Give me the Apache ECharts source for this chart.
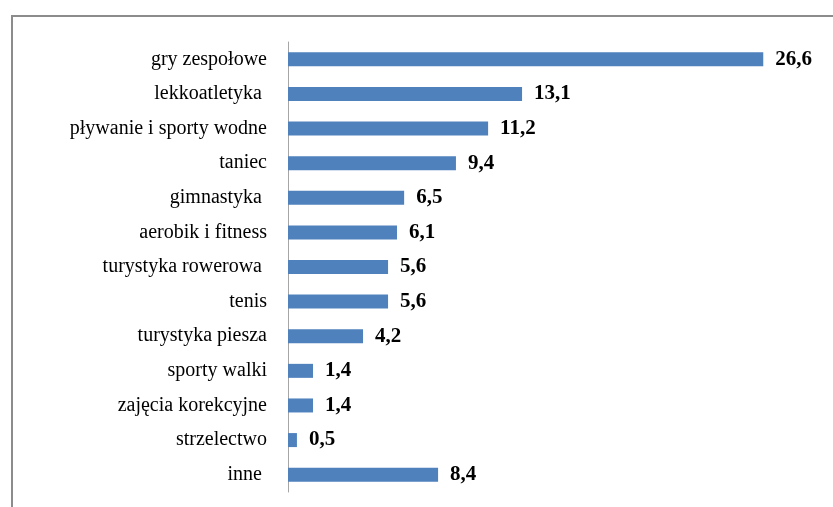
<!DOCTYPE html>
<html>
<head>
<meta charset="utf-8">
<script src="https://cdn.jsdelivr.net/npm/echarts@6/dist/echarts.min.js"></script>
<style>
  html, body { margin: 0; padding: 0; background: #ffffff; }
  #chart { width: 833px; height: 507px; }
</style>
</head>
<body>
<div id="chart"></div>
<script>
// Dane z wykresu (w %)
const categories = [
  'gry zespołowe',
  'lekkoatletyka ',
  'pływanie i sporty wodne',
  'taniec',
  'gimnastyka ',
  'aerobik i fitness',
  'turystyka rowerowa ',
  'tenis',
  'turystyka piesza',
  'sporty walki',
  'zajęcia korekcyjne',
  'strzelectwo',
  'inne '
];
const values = [26.6, 13.1, 11.2, 9.4, 6.5, 6.1, 5.6, 5.6, 4.2, 1.4, 1.4, 0.5, 8.4];

const chart = echarts.init(document.getElementById('chart'), null, { renderer: 'canvas' });

function formatValue(v) {
  return v.toFixed(1).replace('.', ',');
}

const option = {
  backgroundColor: '#ffffff',
  animation: false,
  grid: { left: 288, right: 9, top: 42, height: 450 },
  graphic: [
    {
      type: 'rect',
      shape: { x: 12, y: 16, width: 900, height: 600 },
      style: { fill: 'none', stroke: '#8c8c8c', lineWidth: 2 },
      z: -1
    }
  ],
  xAxis: {
    type: 'value',
    min: 0,
    max: 30,
    show: false
  },
  yAxis: {
    type: 'category',
    data: categories,
    inverse: true,
    axisLine: { lineStyle: { color: '#a6a6a6', width: 1 } },
    axisTick: { show: false },
    axisLabel: {
      margin: 21,
      color: '#000000',
      fontFamily: 'Liberation Serif',
      fontSize: 20
    }
  },
  series: [
    {
      type: 'bar',
      data: values,
      barWidth: 14,
      itemStyle: { color: '#4f81bd' },
      label: {
        show: true,
        position: 'right',
        distance: 12,
        color: '#000000',
        fontFamily: 'Liberation Serif',
        fontWeight: 'bold',
        fontSize: 21,
        formatter: (p) => formatValue(p.value)
      }
    }
  ]
};

chart.setOption(option);
</script>
</body>
</html>
